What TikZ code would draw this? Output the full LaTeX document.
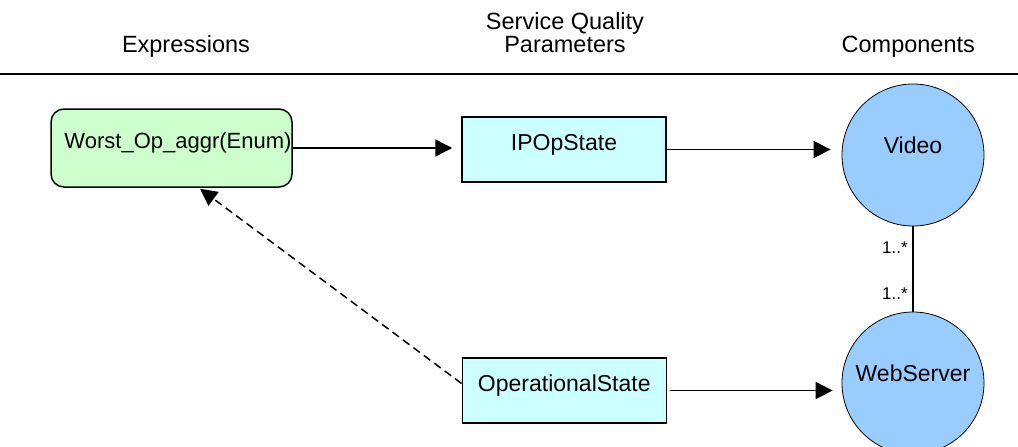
\documentclass[tikz,border=0pt]{standalone}
\usepackage{fontspec}
\setmainfont{Liberation Sans}
\usetikzlibrary{arrows.meta,calc}
\definecolor{exprgreen}{HTML}{CCFFCC}
\definecolor{paramcyan}{HTML}{CCFFFF}
\definecolor{compblue}{HTML}{99CCFF}
\begin{document}
\begin{tikzpicture}[x=1pt,y=-1pt,
  hdr/.style={font=\fontsize{23.5}{23.4}\selectfont, inner sep=0pt},
  exprbox/.style={draw, line width=1.5pt, fill=exprgreen, rounded corners=13pt,
    minimum width=241pt, minimum height=78pt, inner sep=0pt,
    font=\fontsize{22}{24}\selectfont, text height=10pt, text depth=8.2pt},
  parambox/.style={draw, line width=1.5pt, fill=paramcyan,
    minimum width=204pt, minimum height=65pt, inner sep=0pt,
    font=\fontsize{23}{25}\selectfont, text height=10pt, text depth=8.5pt},
  comp/.style={circle, draw, line width=0.8pt, fill=compblue,
    minimum size=142pt, inner sep=0pt,
    font=\fontsize{23}{25}\selectfont, text height=8pt, text depth=10.5pt},
  flow/.style={-{Triangle[length=17pt,width=17pt]}, line width=1.5pt},
  mult/.style={font=\fontsize{17}{19}\selectfont, inner sep=0pt, anchor=east, xshift=-4.5pt}
]
\useasboundingbox (0,0) rectangle (1018,447);

% column headings and rule
\node[hdr, anchor=base] (hexpr) at (186,52.7) {Expressions};
\node[hdr, anchor=base, align=center] (hparam) at (565,52.7) {Service Quality\\Parameters};
\node[hdr, anchor=base] (hcomp) at (908.3,52.7) {Components};
\coordinate (ruleL) at (0,74.3);
\coordinate (ruleR) at (1018,74.3);
\draw[line width=2pt] (ruleL) -- (ruleR);

% expression
\node[exprbox] (expr) at (171.5,148) {\hspace*{13pt}Worst\_Op\_aggr(Enum)};

% service quality parameters
\node[parambox] (ipop) at (564,149.5) {IPOpState};
\node[parambox] (ops) at (564.3,390.5) {OperationalState};

% components
\node[comp] (video) at (913,155) {Video};
\node[comp] (web) at (913,383) {WebServer};

% connectors
\draw[flow, shorten >=9pt] (expr.east) -- (expr.east -| ipop.west);
\draw[flow, shorten >=11pt] (ipop.east) -- (ipop.east -| video.west);
\draw[flow, shorten <=3pt, shorten >=9pt] (ops.east) -- (ops.east -| web.west);

\coordinate (dsrc) at ($(ops.west)+(0,-7)$);
\coordinate (dtip) at ($(expr.south)+(28.5,1)$);
\draw[flow, dash pattern=on 8pt off 5pt] (dsrc) -- (dtip);

\draw[line width=1.5pt] (video.south) --
  node[mult, pos=0.25] (m1) {1..*}
  node[mult, pos=0.79] (m2) {1..*} (web.north);
\end{tikzpicture}
\end{document}
